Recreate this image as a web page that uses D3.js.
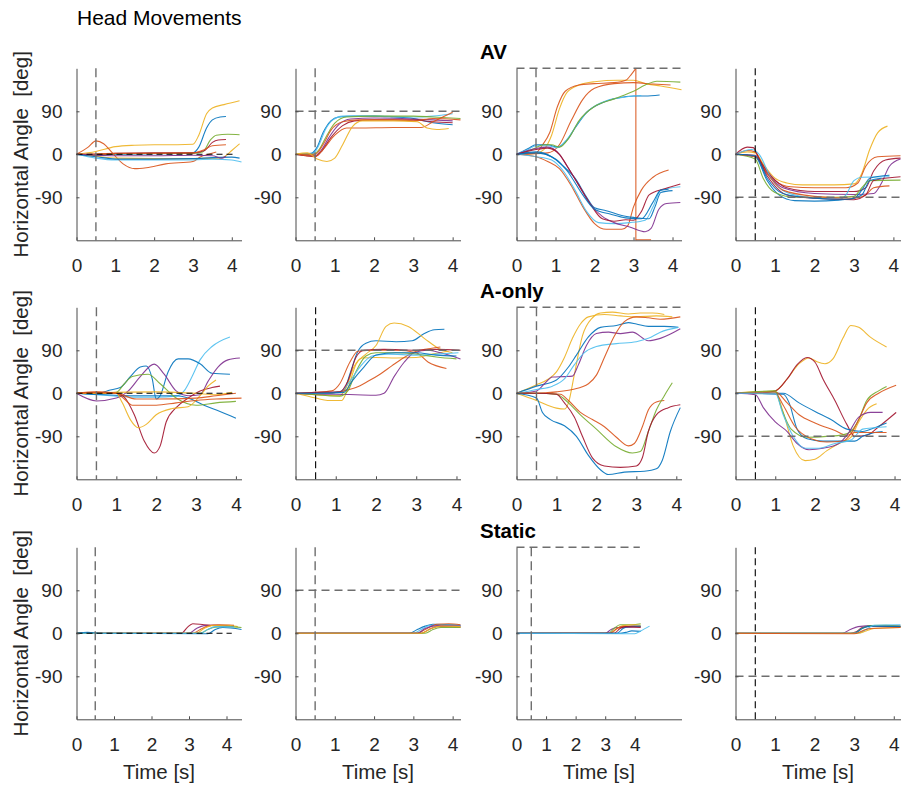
<!DOCTYPE html>
<html>
<head>
<meta charset="utf-8">
<script src="https://cdn.jsdelivr.net/npm/d3@7"></script>
<style>
  body { margin: 0; background: #fff; }
  svg { display: block; font-family: "Liberation Sans", Arial, Helvetica, sans-serif; }
</style>
</head>
<body>
<script>
// MATLAB default line colours
var palette = ["#0072BD", "#D95319", "#EDB120", "#7E2F8E", "#77AC30", "#4DBEEE", "#A2142F"];

var rowTitles = ["AV", "A-only", "Static"];
var xTicks = [0, 1, 2, 3, 4];
var yTicks = [-90, 0, 90];
var xMax = [[4.25, 4.2, 4.23, 4.18], [4.14, 4.1, 4.13, 4.15], [4.4, 4.2, 5.58, 4.17]];
var refLevel = [0, 90, 180, -90];            // dashed target line per column
var zeroLineEnd = [4.07, 3.95, 4.14];        // black dashed 0 line in column 1 ends here
var topLineEnd = [null, null, 4.17];         // dashed 180 line in column 3
var vLineBlack = [[false, false, false, true], [false, true, false, true], [false, false, false, true]];

// traces: [colour index, [[time s, angle deg], ...]]
var av1 = [
  [2, [[0,0],[0.5,6],[1,16],[1.5,19],[2,20],[2.6,20],[3,21],[3.15,40],[3.35,85],[3.5,97],[3.8,104],[4.2,112]]],
  [0, [[0,0],[0.5,-3],[1,0],[2,1],[3,3],[3.15,15],[3.35,55],[3.5,72],[3.7,78],[3.85,79]]],
  [4, [[0,0],[0.5,-2],[1,1],[2,2],[3,2],[3.25,5],[3.45,30],[3.6,40],[3.9,42],[4.2,41]]],
  [6, [[0,0],[0.5,-1],[1,2],[2,3],[3,3],[3.3,8],[3.5,25],[3.65,30],[3.85,31]]],
  [1, [[0,0],[0.3,15],[0.5,28],[0.7,22],[0.9,5],[1.2,-20],[1.5,-30],[1.8,-28],[2.3,-20],[3,-15],[3.2,-5],[3.4,0],[3.6,5]]],
  [1, [[0,0],[0.5,1],[1,2],[2,2],[3,3],[3.3,10],[3.5,18],[3.85,20]]],
  [2, [[0,0],[0.5,-4],[1,-8],[2,-9],[3,-9],[3.7,-8],[3.85,-3],[4,8],[4.2,22]]],
  [5, [[0,0],[0.5,-8],[1,-12],[2,-12],[3,-12],[3.5,-10],[4,-12],[4.25,-16]]],
  [0, [[0,0],[0.5,-5],[1,-10],[2,-10],[3,-9],[3.5,-7],[4,-6],[4.2,-8]]],
  [3, [[0,0],[0.5,-2],[1,-3],[2,-3],[3,-2],[3.5,-3],[3.75,-8],[3.85,-4]]]
];
var av2 = [
  [0, [[0,0],[0.4,2],[0.55,15],[0.7,45],[0.9,70],[1.1,78],[1.5,80],[2,80],[2.5,78],[3,75],[3.5,66],[4,62]]],
  [5, [[0,0],[0.45,2],[0.6,20],[0.75,50],[0.95,72],[1.2,80],[2,80],[3,78],[3.5,80],[4,85]]],
  [4, [[0,0],[0.45,0],[0.6,10],[0.8,40],[1,65],[1.3,78],[2,80],[3,80],[3.5,78],[4.2,75]]],
  [3, [[0,0],[0.5,-3],[0.65,8],[0.85,35],[1.1,62],[1.4,74],[2,76],[3,74],[3.5,72],[4,70]]],
  [6, [[0,0],[0.5,-5],[0.65,5],[0.9,35],[1.2,60],[1.5,70],[2,72],[3,72],[3.5,68],[4,66]]],
  [1, [[0,0],[0.5,-4],[0.7,10],[1,40],[1.3,55],[1.6,55],[2.5,56],[3.2,56],[3.5,68],[3.8,80],[4,88]]],
  [1, [[0,0],[0.5,0],[0.7,20],[0.9,50],[1.2,68],[1.6,72],[2.5,72],[3,70],[3.5,75],[4.2,72]]],
  [2, [[0,0],[0.3,3],[0.55,-10],[0.8,-15],[1,-8],[1.2,20],[1.45,58],[1.7,70],[2.5,70],[3.1,68],[3.35,55],[3.6,52],[3.9,54]]]
];
var av3 = [
  [2, [[0,0],[0.5,2],[0.7,10],[0.9,40],[1.1,95],[1.3,130],[1.6,145],[2,152],[2.6,155],[3,155],[3.3,148],[3.7,143],[4.23,135]]],
  [1, [[0,0],[0.5,3],[0.65,18],[0.85,45],[1.05,100],[1.25,132],[1.6,145],[2,148],[2.5,150],[2.8,155],[2.95,168],[3.06,180]]],
  [1, [[3.06,180],[3.06,-180]]],
  [1, [[3.06,-179],[3.45,-179]]],
  [1, [[0,0],[0.8,3],[1.1,20],[1.4,70],[1.7,115],[2,138],[2.5,148],[3,150],[3.5,147],[3.95,145]]],
  [0, [[0,0],[0.3,12],[0.5,20],[0.8,20],[1.05,15],[1.3,30],[1.5,55],[1.8,88],[2.2,108],[2.6,118],[3,122],[3.3,122],[3.67,124]]],
  [5, [[0,0],[0.3,10],[0.5,18],[0.8,18],[1.05,14],[1.3,32],[1.6,68],[1.9,95],[2.3,112],[2.8,120],[3.2,123]]],
  [4, [[0,0],[0.4,10],[0.7,20],[0.9,20],[1.1,15],[1.35,35],[1.6,70],[2,100],[2.5,116],[3,132],[3.3,145],[3.6,153],[4.2,151]]],
  [1, [[0,0],[0.5,-5],[0.8,-15],[1.1,-30],[1.4,-65],[1.7,-110],[2,-145],[2.3,-157],[2.7,-157],[2.85,-150],[3,-110],[3.2,-75],[3.5,-48],[3.9,-33]]],
  [5, [[0,0],[0.5,-5],[0.9,-12],[1.2,-35],[1.5,-75],[1.8,-120],[2.1,-143],[2.5,-145],[2.9,-143],[3.3,-138],[3.5,-110],[3.7,-75],[4.2,-68]]],
  [0, [[0,0],[0.5,5],[0.9,-5],[1.2,-25],[1.5,-50],[1.8,-90],[2,-112],[2.3,-118],[2.7,-128],[3,-132],[3.4,-135],[3.55,-110],[3.7,-80],[4,-76]]],
  [3, [[0,0],[0.5,12],[0.8,15],[1.1,0],[1.3,-25],[1.6,-65],[1.9,-105],[2.2,-130],[2.5,-143],[2.9,-152],[3.3,-162],[3.45,-155],[3.65,-115],[3.85,-103],[4.2,-101]]],
  [6, [[0,0],[0.5,10],[0.8,13],[1.1,0],[1.3,-25],[1.6,-65],[1.9,-105],[2.2,-135],[2.5,-140],[2.8,-137],[3,-138],[3.2,-120],[3.4,-85],[3.8,-72],[4.2,-62]]],
  [0, [[0,0],[0.5,3],[1,-10],[1.3,-35],[1.7,-85],[2,-115],[2.4,-125],[2.8,-133],[3.2,-135],[3.5,-100],[3.7,-75],[3.9,-73]]]
];
var av4 = [
  [2, [[0,0],[0.3,5],[0.5,3],[0.7,-20],[1,-50],[1.3,-60],[1.7,-64],[2.5,-64],[3,-62],[3.2,-40],[3.4,10],[3.6,45],[3.85,59]]],
  [1, [[0,0],[0.3,8],[0.5,5],[0.7,-25],[1,-55],[1.4,-68],[2,-70],[2.8,-70],[3.1,-60],[3.3,-25],[3.6,-5],[4.18,-3]]],
  [6, [[0,0],[0.3,15],[0.45,14],[0.6,-10],[0.9,-45],[1.3,-70],[2,-78],[3,-78],[3.3,-70],[3.5,-35],[3.8,-12],[4.18,-8]]],
  [3, [[0,0],[0.5,-5],[0.8,-40],[1.2,-70],[2,-82],[3,-84],[3.5,-82],[3.7,-60],[3.9,-25],[4.18,-10]]],
  [5, [[0,0],[0.4,10],[0.6,0],[0.9,-50],[1.3,-80],[2,-92],[2.6,-95],[2.8,-85],[3,-55],[3.2,-48],[3.9,-47]]],
  [0, [[0,0],[0.5,-5],[0.8,-55],[1.1,-85],[1.5,-97],[2,-98],[2.6,-96],[3,-92],[3.2,-75],[3.4,-50],[3.9,-44]]],
  [4, [[0,0],[0.5,-10],[0.7,-50],[1,-80],[1.5,-90],[2.5,-90],[3,-88],[3.2,-70],[3.4,-55],[4.18,-54]]],
  [1, [[0,0],[0.5,-5],[0.8,-40],[1.2,-75],[2,-88],[3,-92],[3.3,-85],[3.5,-70],[3.9,-66]]],
  [6, [[0,0],[0.5,-2],[0.8,-45],[1.3,-85],[2,-92],[3,-95],[3.3,-85],[3.5,-55],[4.18,-47]]],
  [0, [[0,0],[0.5,-3],[0.8,-50],[1.2,-82],[2,-92],[2.8,-94],[3.2,-85],[3.4,-55],[3.7,-50]]]
];

var ao1 = [
  [5, [[0,0],[0.5,-3],[1,-6],[1.5,-8],[2,-8],[2.5,-6],[2.7,5],[2.9,35],[3.1,70],[3.4,98],[3.85,118]]],
  [0, [[0,0],[0.5,-2],[0.8,6],[1.1,12],[1.35,35],[1.6,55],[1.75,57],[1.9,30],[2,-12],[2.1,-5],[2.3,45],[2.55,72],[2.8,72],[3.1,62],[3.4,42],[3.85,40]]],
  [0, [[0,0],[0.5,-2],[1.5,-5],[2.5,-5],[2.8,-10],[3.2,-25],[3.6,-38],[4,-52]]],
  [3, [[0,0],[0.5,-16],[1,-10],[1.3,5],[1.6,35],[1.95,61],[2.2,40],[2.5,5],[2.8,-5],[3.1,-3],[3.3,25],[3.55,55],[3.8,70],[4.1,74]]],
  [4, [[0,0],[0.5,0],[1,2],[1.2,20],[1.4,35],[1.8,40],[2.1,20],[2.5,-10],[3,-25],[3.5,-20],[4,-17]]],
  [6, [[0,0],[1,0],[1.2,-8],[1.45,-45],[1.7,-100],[1.95,-125],[2.1,-110],[2.25,-60],[2.5,-30],[2.8,-10],[3.1,5],[3.4,12],[3.6,15]]],
  [2, [[0,0],[1,0],[1.15,-20],[1.35,-55],[1.55,-72],[1.75,-65],[2,-45],[2.4,-32],[2.8,-28],[3.1,-5],[3.3,15],[3.5,28]]],
  [2, [[0,0],[1,2],[2,3],[2.5,2],[3,0],[3.5,-3],[3.9,2]]],
  [1, [[0,0],[0.5,3],[1,0],[1.2,-12],[1.4,-25],[2,-25],[2.5,-20],[3,-15],[3.5,-12],[4.14,-10]]],
  [1, [[0,0],[0.5,2],[1,0],[1.5,-12],[2,-12],[3,-10],[3.5,-5],[4,0]]]
];
var ao2 = [
  [0, [[0,0],[0.5,0],[1,2],[1.2,5],[1.35,40],[1.55,88],[1.75,105],[2,110],[2.5,108],[2.9,110],[3.2,125],[3.45,133],[3.7,134]]],
  [1, [[0,0],[0.5,2],[0.9,5],[1.1,20],[1.35,65],[1.55,88],[2,90],[2.5,90],[3,85],[3.3,65],[3.75,52]]],
  [2, [[0,0],[0.5,-10],[0.8,-15],[1.15,-15],[1.3,10],[1.5,60],[1.75,82],[2,100],[2.25,140],[2.45,147],[2.8,140],[3.2,115],[3.6,92],[3.9,85]]],
  [2, [[0,0],[0.5,-3],[1.1,-5],[1.25,10],[1.45,55],[1.65,74],[2,75],[2.5,74],[3,75],[3.4,82],[3.8,88]]],
  [3, [[0,0],[0.5,-2],[1,-2],[1.5,-3],[2,-4],[2.2,0],[2.45,35],[2.7,65],[2.95,85],[3.3,90],[3.6,85],[4.1,72]]],
  [1, [[0,0],[0.8,0],[1.2,5],[1.5,12],[1.8,25],[2.1,40],[2.4,58],[2.7,75],[3,88],[3.3,93],[3.6,97]]],
  [4, [[0,0],[0.5,-3],[1.1,-6],[1.3,5],[1.5,45],[1.75,78],[2,85],[2.5,85],[3,82],[3.5,76],[4,72]]],
  [5, [[0,0],[0.5,0],[1.1,3],[1.35,25],[1.6,55],[1.9,78],[2.3,82],[3,80],[3.5,82],[4.05,85]]],
  [6, [[0,0],[0.5,2],[1.1,3],[1.3,25],[1.5,75],[1.7,90],[2.2,92],[3,90],[3.5,92],[4.1,90]]],
  [0, [[0,0],[0.5,0],[1.2,2],[1.4,25],[1.7,55],[2,80],[2.5,85],[3,85],[3.5,80],[4,78]]]
];
var ao3 = [
  [2, [[0,0],[0.5,-15],[1,-31],[1.2,-33],[1.3,-20],[1.45,40],[1.65,120],[1.9,158],[2.1,168],[2.4,170],[2.8,166],[3.1,168],[3.4,168],[3.7,165]]],
  [2, [[0,0],[0.5,18],[0.8,30],[1,45],[1.2,75],[1.4,115],[1.6,145],[1.8,160],[2.2,165],[2.6,162],[3,160],[3.5,162],[3.9,160]]],
  [0, [[0,0],[0.5,15],[1,28],[1.3,55],[1.5,80],[1.8,118],[2.1,138],[2.5,142],[2.8,148],[3,145],[3.3,140],[3.7,140],[4.05,138]]],
  [3, [[0,0],[0.5,5],[0.7,20],[0.9,34],[1.2,35],[1.4,36],[1.55,60],[1.75,100],[2,125],[2.3,128],[2.6,125],[2.9,128],[3.3,110],[3.6,115],[4.1,135]]],
  [5, [[0,0],[0.5,8],[0.9,15],[1.2,30],[1.45,60],[1.7,85],[2,98],[2.5,104],[3,108],[3.3,115],[3.6,128],[4.05,138]]],
  [1, [[0,0],[0.5,0],[1,3],[1.4,8],[1.8,20],[2,38],[2.2,75],[2.45,120],[2.7,150],[3,160],[3.3,158],[3.6,155],[4.1,160]]],
  [1, [[0,0],[0.5,0],[1.1,-2],[1.3,-15],[1.6,-40],[1.9,-55],[2.2,-70],[2.5,-92],[2.8,-110],[2.95,-105],[3.15,-70],[3.3,-35],[3.5,-18],[3.7,-15]]],
  [4, [[0,0],[0.5,0],[1,-2],[1.3,-20],[1.6,-45],[2,-75],[2.5,-112],[2.9,-125],[3.1,-122],[3.3,-80],[3.5,-35],[3.7,-5],[3.9,22]]],
  [6, [[0,0],[0.5,0],[1,-2],[1.2,-20],[1.45,-50],[1.65,-90],[1.9,-135],[2.2,-152],[2.6,-155],[3,-152],[3.15,-135],[3.3,-80],[3.5,-45],[3.8,-30],[4.1,-24]]],
  [0, [[0,0],[0.5,-10],[0.65,-40],[0.85,-55],[1.2,-68],[1.5,-90],[1.8,-130],[2.1,-160],[2.3,-170],[2.7,-165],[3.2,-163],[3.5,-158],[3.65,-140],[3.85,-80],[4.1,-30]]]
];
var ao4 = [
  [2, [[0,0],[0.5,2],[1,5],[1.3,30],[1.6,62],[1.85,74],[2.05,66],[2.25,62],[2.45,72],[2.7,115],[2.9,142],[3.1,138],[3.4,117],[3.8,97]]],
  [2, [[0,0],[0.5,3],[1,3],[1.2,-40],[1.45,-110],[1.75,-141],[2,-138],[2.3,-120],[2.6,-105],[2.9,-92],[3.1,-60],[3.3,-35],[3.55,-22]]],
  [6, [[0,0],[0.5,0],[1,5],[1.3,30],[1.55,60],[1.8,75],[2,65],[2.2,30],[2.5,-15],[2.8,-65],[3,-90],[3.3,-88],[3.6,-70],[4.04,-40]]],
  [0, [[0,0],[1.2,0],[1.6,-20],[2,-38],[2.4,-55],[2.8,-75],[3.2,-80],[3.5,-72],[3.8,-62]]],
  [0, [[0,0],[1.2,-2],[1.35,-20],[1.55,-75],[1.8,-95],[2.2,-100],[2.6,-100],[3,-100],[3.2,-90],[3.5,-82],[3.7,-80]]],
  [1, [[0,0],[1,3],[1.3,-20],[1.6,-45],[2,-62],[2.5,-78],[2.8,-88],[3,-82],[3.5,-82],[3.8,-82]]],
  [4, [[0,0],[1,5],[1.15,-30],[1.4,-75],[1.8,-92],[2.3,-90],[2.7,-87],[2.9,-80],[3.1,-55],[3.3,-15],[3.6,5],[3.8,14]]],
  [1, [[0,0],[1,0],[1.2,-25],[1.5,-70],[1.9,-95],[2.3,-102],[2.7,-100],[2.9,-85],[3.1,-55],[3.3,-20],[3.6,0],[4.04,17]]],
  [3, [[0,0],[0.5,-3],[0.7,-30],[1,-60],[1.3,-80],[1.55,-105],[1.85,-118],[2.2,-115],[2.6,-105],[2.85,-82],[3.1,-50],[3.4,-40],[3.7,-40]]],
  [5, [[0,0],[1,0],[1.2,-45],[1.45,-90],[1.75,-115],[2.1,-115],[2.5,-105],[2.9,-98],[3.2,-75],[3.5,-72],[3.8,-70]]]
];

var st1 = [
  [6, [[0,0],[2.8,0],[2.95,12],[3.1,20],[3.4,18],[3.8,16],[4.2,15]]],
  [3, [[0,0],[3,0],[3.2,10],[3.4,16],[3.8,17],[4.2,15]]],
  [1, [[0,0],[3.1,0],[3.3,8],[3.5,15],[3.8,18],[4.2,17]]],
  [2, [[0,0],[3.2,0],[3.4,10],[3.6,16],[4,17],[4.3,14]]],
  [4, [[0,0],[3.3,0],[3.5,8],[3.7,13],[4,14],[4.4,12]]],
  [0, [[0,0],[0.3,2],[0.6,0],[3.5,-1],[3.7,8],[3.9,12],[4.4,8]]],
  [5, [[0,0],[3.3,0],[3.5,8],[3.7,14],[4.2,13]]]
];
var st2 = [
  [0, [[0,0],[2.9,0],[3.1,8],[3.3,15],[3.5,19],[4.2,17]]],
  [5, [[0,0],[3,0],[3.2,8],[3.4,16],[3.7,18],[4.2,16]]],
  [1, [[0,0],[3.1,0],[3.3,8],[3.6,19],[3.9,20],[4.2,18]]],
  [6, [[0,0],[3.2,0],[3.4,8],[3.6,14],[4,14],[4.2,13]]],
  [4, [[0,0],[3.3,0],[3.5,8],[3.7,12],[4.2,12]]],
  [3, [[0,0],[3.1,0],[3.3,10],[3.6,16],[4.2,15]]],
  [2, [[0,0],[3.2,0],[3.45,10],[3.7,15],[4.2,14]]]
];
var st3 = [
  [3, [[0,0],[3,0],[3.2,8],[3.4,12],[3.8,13],[4.2,14]]],
  [4, [[0,0],[3.1,0],[3.3,10],[3.5,18],[3.9,18],[4.2,20]]],
  [2, [[0,0],[3.2,0],[3.4,10],[3.6,16],[4,18],[4.2,17]]],
  [1, [[0,0],[3.15,0],[3.35,8],[3.55,14],[4,15],[4.2,14]]],
  [0, [[0,0],[3.4,0],[3.6,10],[3.8,14],[4.2,15]]],
  [6, [[0,0],[3.3,0],[3.5,10],[3.7,14],[4.2,12]]],
  [0, [[0,0],[3.5,0],[3.7,2],[3.9,5],[4.2,4]]],
  [5, [[0,0],[3.6,-1],[4,-1],[4.2,5],[4.5,15]]]
];
var st4 = [
  [3, [[0,0],[2.7,0],[2.9,8],[3.1,14],[3.5,16],[4.17,15]]],
  [6, [[0,0],[2.9,0],[3.05,3],[3.2,12],[3.5,15],[4.17,14]]],
  [4, [[0,0],[3,0],[3.2,10],[3.4,16],[3.8,17],[4.17,15]]],
  [0, [[0,0],[3,0],[3.2,10],[3.4,15],[4.17,14]]],
  [5, [[0,0],[3.1,0],[3.3,8],[3.5,17],[4.17,18]]],
  [2, [[0,0],[3.1,0],[3.3,5],[3.5,10],[4.17,12]]],
  [1, [[0,0],[3,-1],[3.2,5],[3.4,10],[4.17,12]]]
];

var traces = [[av1, av2, av3, av4], [ao1, ao2, ao3, ao4], [st1, st2, st3, st4]];

var width = 901, height = 785;
var colLeft = [76.5, 295.5, 516.5, 735.5], panelW = 165;
var rowTop = [68.3, 307.3, 547.3], panelH = 172;
var textCol = "#262626", axisCol = "#4a4a4a", grayDash = "#6e6e6e";

var svg = d3.select("body").append("svg")
    .attr("width", width).attr("height", height);

svg.append("text").attr("x", 77).attr("y", 25)
    .attr("font-size", 21).attr("fill", "#000")
    .text("Head Movements");

var line = d3.line().curve(d3.curveMonotoneX);
// plain hyphen for negatives, like the original
var tickFmt = function(d) { return String(d); };

for (var r = 0; r < 3; r++) {
  svg.append("text").attr("x", 480).attr("y", rowTop[r] - 9)
      .attr("font-size", 20.5).attr("font-weight", "bold").attr("fill", "#000")
      .text(rowTitles[r]);

  for (var c = 0; c < 4; c++) {
    var x = d3.scaleLinear().domain([0, xMax[r][c]]).range([0, panelW]);
    var y = d3.scaleLinear().domain([-180, 180]).range([panelH, 0]);
    var id = "clip" + r + c;

    var g = svg.append("g")
        .attr("transform", "translate(" + colLeft[c] + "," + rowTop[r] + ")");

    g.append("clipPath").attr("id", id)
      .append("rect").attr("x", 0).attr("y", -1).attr("width", panelW + 1).attr("height", panelH + 2);

    // traces
    line.x(function(d) { return x(d[0]); }).y(function(d) { return y(d[1]); });
    g.append("g").attr("clip-path", "url(#" + id + ")")
      .selectAll("path").data(traces[r][c]).enter().append("path")
        .attr("d", function(d) { return line(d[1]); })
        .attr("fill", "none")
        .attr("stroke", function(d) { return palette[d[0]]; })
        .attr("stroke-width", 1.1)
        .attr("stroke-opacity", 0.9);

    // target level
    var lev = refLevel[c];
    var xEnd = xMax[r][c];
    if (c == 0) xEnd = zeroLineEnd[r];
    if (c == 2 && topLineEnd[r]) xEnd = topLineEnd[r];
    g.append("line")
        .attr("x1", x(0)).attr("x2", x(xEnd))
        .attr("y1", y(lev)).attr("y2", y(lev))
        .attr("stroke", c == 0 ? "#000" : grayDash)
        .attr("stroke-width", c == 0 ? 1.1 : 1.4)
        .attr("stroke-dasharray", c == 0 ? "6,4" : "8,5");

    // stimulus onset
    var blk = vLineBlack[r][c];
    g.append("line")
        .attr("x1", x(0.5)).attr("x2", x(0.5))
        .attr("y1", 0).attr("y2", panelH)
        .attr("stroke", blk ? "#000" : grayDash)
        .attr("stroke-width", blk ? 1.1 : 1.4)
        .attr("stroke-dasharray", blk ? "7,4" : "9,5");

    // axes
    var ax = g.append("g").attr("transform", "translate(0," + panelH + ")")
        .call(d3.axisBottom(x).tickValues(xTicks).tickFormat(tickFmt)
              .tickSizeInner(-3).tickSizeOuter(0).tickPadding(18.5));
    var ay = g.append("g")
        .call(d3.axisLeft(y).tickValues(yTicks).tickFormat(tickFmt)
              .tickSizeInner(-3).tickSizeOuter(0).tickPadding(14));
    [ax, ay].forEach(function(a) {
      a.select(".domain").attr("stroke", axisCol);
      a.selectAll(".tick line").attr("stroke", axisCol);
      a.selectAll(".tick text").attr("fill", textCol)
        .attr("font-size", 19).attr("font-family", null);
    });

    if (c == 0) {
      svg.append("text")
          .attr("transform", "translate(28," + (rowTop[r] + panelH / 2) + ") rotate(-90)")
          .attr("text-anchor", "middle").attr("font-size", 20.5).attr("fill", textCol)
          .style("white-space", "pre")
          .text("Horizontal Angle  [deg]");
    }
    if (r == 2) {
      svg.append("text")
          .attr("x", colLeft[c] + panelW / 2).attr("y", rowTop[r] + panelH + 60)
          .attr("text-anchor", "middle").attr("font-size", 20.5).attr("fill", textCol)
          .text("Time [s]");
    }
  }
}
</script>
</body>
</html>
